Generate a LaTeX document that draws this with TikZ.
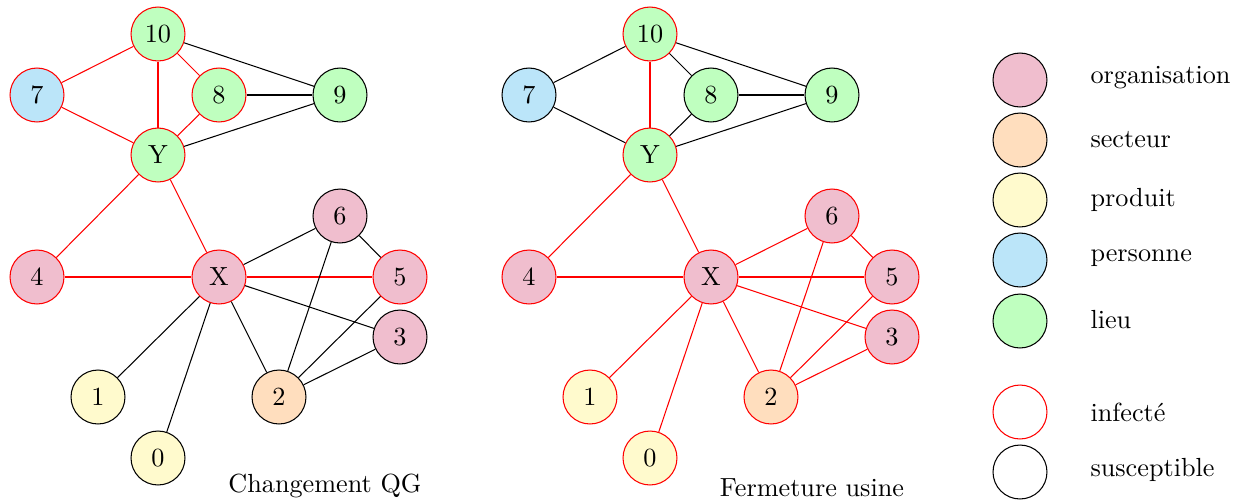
\documentclass[tikz,border=0pt]{standalone}
\usepackage{tikz}
\definecolor{orgc}{RGB}{240,190,206}
\definecolor{secc}{RGB}{255,222,190}
\definecolor{proc}{RGB}{255,250,205}
\definecolor{perc}{RGB}{187,229,249}
\definecolor{lieuc}{RGB}{191,255,191}
\tikzset{
  vtx/.style={circle,draw=black,minimum size=20.6pt,inner sep=0pt},
  inf/.style={draw=red},
  org/.style={fill=orgc}, sec/.style={fill=secc}, pro/.style={fill=proc},
  per/.style={fill=perc}, lieu/.style={fill=lieuc},
  ered/.style={draw=red}, eblk/.style={draw=black},
  lab/.style={anchor=west,inner sep=0pt},
}
\begin{document}
\begin{tikzpicture}[x=0.3817pt,y=-0.3817pt]
\useasboundingbox (0,0) rectangle (1238,503);
% ---------- left graph ----------
\begin{scope}
\node[vtx,lieu,inf] (a10) at (158,34) {10};
\node[vtx,per,inf] (a7) at (37,95) {7};
\node[vtx,lieu,inf] (a8) at (219,95) {8};
\node[vtx,lieu] (a9) at (340,95) {9};
\node[vtx,lieu,inf] (aY) at (158,155) {Y};
\node[vtx,org] (a6) at (340,216) {6};
\node[vtx,org,inf] (a4) at (37,277) {4};
\node[vtx,org,inf] (aX) at (219,277) {X};
\node[vtx,org,inf] (a5) at (400,277) {5};
\node[vtx,org] (a3) at (400,337) {3};
\node[vtx,pro] (a1) at (98,397) {1};
\node[vtx,sec] (a2) at (279,397) {2};
\node[vtx,pro] (a0) at (158,458) {0};
\draw[ered] (a10) -- (a7); \draw[ered] (a10) -- (aY); \draw[ered] (a10) -- (a8);
\draw[ered] (a7) -- (aY); \draw[ered] (a8) -- (aY);
\draw[eblk] (a10) -- (a9); \draw[eblk] (a8) -- (a9); \draw[eblk] (aY) -- (a9);
\draw[ered] (aY) -- (a4); \draw[ered] (aY) -- (aX); \draw[ered] (a4) -- (aX);
\draw[ered] (aX) -- (a5);
\draw[eblk] (aX) -- (a6); \draw[eblk] (aX) -- (a3); \draw[eblk] (aX) -- (a1);
\draw[eblk] (aX) -- (a0); \draw[eblk] (aX) -- (a2);
\draw[eblk] (a6) -- (a5); \draw[eblk] (a6) -- (a2); \draw[eblk] (a5) -- (a2);
\draw[eblk] (a3) -- (a2);
\node (ta) at (325,486) {Changement QG};
\end{scope}
% ---------- right graph ----------
\begin{scope}[xshift=492*0.3817pt]
\node[vtx,lieu,inf] (b10) at (158,34) {10};
\node[vtx,per] (b7) at (37,95) {7};
\node[vtx,lieu] (b8) at (219,95) {8};
\node[vtx,lieu] (b9) at (340,95) {9};
\node[vtx,lieu,inf] (bY) at (158,155) {Y};
\node[vtx,org,inf] (b6) at (340,216) {6};
\node[vtx,org,inf] (b4) at (37,277) {4};
\node[vtx,org,inf] (bX) at (219,277) {X};
\node[vtx,org,inf] (b5) at (400,277) {5};
\node[vtx,org,inf] (b3) at (400,337) {3};
\node[vtx,pro,inf] (b1) at (98,397) {1};
\node[vtx,sec,inf] (b2) at (279,397) {2};
\node[vtx,pro,inf] (b0) at (158,458) {0};
\draw[eblk] (b10) -- (b7); \draw[ered] (b10) -- (bY); \draw[eblk] (b10) -- (b8);
\draw[eblk] (b7) -- (bY); \draw[eblk] (b8) -- (bY);
\draw[eblk] (b10) -- (b9); \draw[eblk] (b8) -- (b9); \draw[eblk] (bY) -- (b9);
\draw[ered] (bY) -- (b4); \draw[ered] (bY) -- (bX); \draw[ered] (b4) -- (bX);
\draw[ered] (bX) -- (b5);
\draw[ered] (bX) -- (b6); \draw[ered] (bX) -- (b3); \draw[ered] (bX) -- (b1);
\draw[ered] (bX) -- (b0); \draw[ered] (bX) -- (b2);
\draw[ered] (b6) -- (b5); \draw[ered] (b6) -- (b2); \draw[ered] (b5) -- (b2);
\draw[ered] (b3) -- (b2);
\node (tb) at (320,488) {Fermeture usine};
\end{scope}
% ---------- legend ----------
\node[vtx,org] (l1) at (1020,80) {};
\node[vtx,sec] (l2) at (1020,140) {};
\node[vtx,pro] (l3) at (1020,200) {};
\node[vtx,per] (l4) at (1020,260) {};
\node[vtx,lieu] (l5) at (1020,321) {};
\node[vtx,inf] (l6) at (1020,412) {};
\node[vtx] (l7) at (1020,472) {};
\node[lab] (m1) at (1090,78) {organisation};
\node[lab] (m2) at (1090,140) {secteur};
\node[lab] (m3) at (1090,200) {produit};
\node[lab] (m4) at (1090,258) {personne};
\node[lab] (m5) at (1090,320) {lieu};
\node[lab] (m6) at (1090,412) {infecté};
\node[lab] (m7) at (1090,470) {susceptible};
\end{tikzpicture}
\end{document}
